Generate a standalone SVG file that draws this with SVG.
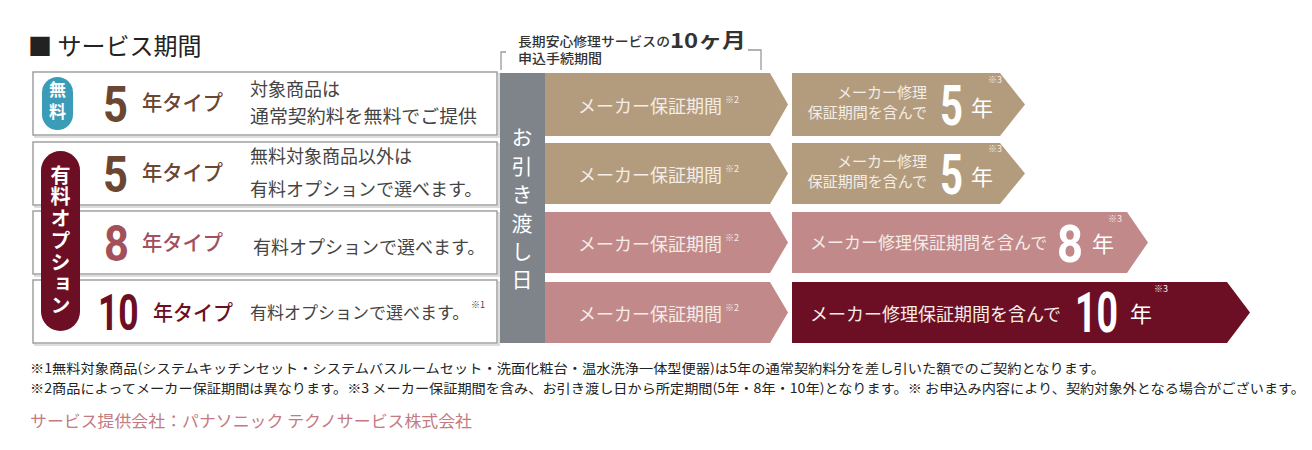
<svg xmlns="http://www.w3.org/2000/svg" width="1312" height="450" viewBox="0 0 1312 450">
<style>
.jp{font-family:"Noto Sans CJK JP","Noto Sans",sans-serif}
.num{font-family:Roboto,"Liberation Sans",sans-serif;font-weight:700}
.box{fill:#fff;stroke:#9a9a9a;stroke-width:1.4}
.shadow{fill:none;stroke:#cfcfcf;stroke-width:1.4}
.desc{font-size:18px;fill:#444}
.type{font-size:21px;font-weight:500}
.tan{fill:#b39c7e}
.rose{fill:#c2898b}
.maroon{fill:#6c0f24}
.lbl{font-size:18px;fill:#f4ede7}
.sup{font-size:9px}
.wt{fill:#fff}
.brk{fill:none;stroke:#9a9a9a;stroke-width:1.3}
.foot{font-size:13px;fill:#222}
</style>
<rect width="1312" height="450" fill="#fff"/>

<g id="title">
<text class="jp" x="28" y="55" font-size="24" fill="#222">■ サービス期間</text>
</g>

<g id="connectors">
<path class="brk" d="M506,52 H501 V70"/>
<path class="brk" d="M748,50 H761 V70"/>
</g>

<g id="bracket-label">
<text class="jp" x="518" y="46" font-size="13" font-weight="500" fill="#333" textLength="152" lengthAdjust="spacingAndGlyphs">長期安心修理サービスの</text>
<text class="jp" x="670" y="48" font-size="20" font-weight="700" fill="#333" textLength="76" lengthAdjust="spacingAndGlyphs">10ヶ月</text>
<text class="jp" x="518" y="63" font-size="13" font-weight="500" fill="#333" textLength="84" lengthAdjust="spacingAndGlyphs">申込手続期間</text>
</g>

<g id="row1">
<rect class="shadow" x="35" y="74" width="464" height="63"/>
<rect class="box" x="33" y="72" width="464" height="63"/>
<rect x="42" y="77" width="31" height="53" rx="15.5" fill="#3a9cb7"/>
<text class="jp wt" x="57.5" y="81" font-size="17" font-weight="700" writing-mode="vertical-rl" letter-spacing="5">無料</text>
<text class="num" x="103" y="122" font-size="50" fill="#6b4630" textLength="25" lengthAdjust="spacingAndGlyphs">5</text>
<text class="jp type" x="142" y="110" fill="#6b4630" textLength="81" lengthAdjust="spacingAndGlyphs">年タイプ</text>
<text class="jp desc" x="250" y="96">対象商品は</text>
<text class="jp desc" x="250" y="123" textLength="227" lengthAdjust="spacingAndGlyphs">通常契約料を無料でご提供</text>
</g>

<g id="row2">
<rect class="shadow" x="35" y="144" width="464" height="63"/>
<rect class="box" x="33" y="142" width="464" height="63"/>
<text class="num" x="103" y="192" font-size="50" fill="#6b4630" textLength="25" lengthAdjust="spacingAndGlyphs">5</text>
<text class="jp type" x="142" y="180" fill="#6b4630" textLength="81" lengthAdjust="spacingAndGlyphs">年タイプ</text>
<text class="jp desc" x="250" y="163">無料対象商品以外は</text>
<text class="jp desc" x="250" y="196">有料オプションで選べます。</text>
</g>

<g id="row3">
<rect class="shadow" x="35" y="213" width="464" height="63"/>
<rect class="box" x="33" y="211" width="464" height="63"/>
<text class="num" x="104" y="261" font-size="50" fill="#a3505a" textLength="25" lengthAdjust="spacingAndGlyphs">8</text>
<text class="jp type" x="142" y="250" fill="#a3505a" textLength="81" lengthAdjust="spacingAndGlyphs">年タイプ</text>
<text class="jp desc" x="253" y="254">有料オプションで選べます。</text>
</g>

<g id="row4">
<rect class="shadow" x="35" y="282" width="464" height="63"/>
<rect class="box" x="33" y="280" width="464" height="63"/>
<text class="num" transform="translate(98,330) scale(0.71,1)" font-size="50" fill="#6c0f24">10</text>
<text class="jp type" x="153" y="320" fill="#6c0f24" textLength="80" lengthAdjust="spacingAndGlyphs">年タイプ</text>
<text class="jp" x="250" y="319" font-size="17" fill="#444">有料オプションで選べます。</text>
<text class="jp sup" x="471" y="308" fill="#444">※1</text>
</g>

<g id="option-badge">
<rect x="41" y="151" width="39" height="180" rx="19.5" fill="#6c0f24"/>
<text class="jp wt" x="60.5" y="165" font-size="20" font-weight="700" writing-mode="vertical-rl" letter-spacing="1.8">有料オプション</text>
</g>

<g id="handover">
<rect x="500" y="73" width="45" height="270" fill="#7e848a"/>
<text class="jp wt" x="522" y="127" font-size="21" writing-mode="vertical-rl" letter-spacing="7.4">お引き渡し日</text>
</g>

<g id="warranty1">
<polygon class="tan" points="545,73 770,73 788,104.5 770,136 545,136"/>
<text class="jp lbl" x="578" y="113">メーカー保証期間</text>
<text class="jp sup" x="725" y="103" fill="#f4ede7">※2</text>
</g>
<g id="warranty2">
<polygon class="tan" points="545,143 770,143 788,173.5 770,204 545,204"/>
<text class="jp lbl" x="578" y="182">メーカー保証期間</text>
<text class="jp sup" x="725" y="172" fill="#f4ede7">※2</text>
</g>
<g id="warranty3">
<polygon class="rose" points="545,212 770,212 788,242.5 770,273 545,273"/>
<text class="jp lbl" x="578" y="251">メーカー保証期間</text>
<text class="jp sup" x="725" y="241" fill="#f4ede7">※2</text>
</g>
<g id="warranty4">
<polygon class="rose" points="545,282 770,282 788,312.5 770,343 545,343"/>
<text class="jp lbl" x="578" y="321">メーカー保証期間</text>
<text class="jp sup" x="725" y="311" fill="#f4ede7">※2</text>
</g>

<g id="total1">
<polygon class="tan" points="792,73 1000,73 1025,104.5 1000,136 792,136"/>
<text class="jp" x="927" y="98" font-size="15" fill="#f4ede7" text-anchor="end">メーカー修理</text>
<text class="jp" x="927" y="118" font-size="15" fill="#f4ede7" text-anchor="end">保証期間を含んで</text>
<text class="num wt" x="940" y="125" font-size="56" textLength="23" lengthAdjust="spacingAndGlyphs">5</text>
<text class="jp wt" x="971" y="116" font-size="22">年</text>
<text class="jp sup" x="988" y="83" fill="#f4ede7">※3</text>
</g>
<g id="total2">
<polygon class="tan" points="792,143 1000,143 1025,173.5 1000,204 792,204"/>
<text class="jp" x="927" y="167" font-size="15" fill="#f4ede7" text-anchor="end">メーカー修理</text>
<text class="jp" x="927" y="187" font-size="15" fill="#f4ede7" text-anchor="end">保証期間を含んで</text>
<text class="num wt" x="940" y="194" font-size="56" textLength="23" lengthAdjust="spacingAndGlyphs">5</text>
<text class="jp wt" x="971" y="185" font-size="22">年</text>
<text class="jp sup" x="988" y="152" fill="#f4ede7">※3</text>
</g>
<g id="total3">
<polygon class="rose" points="792,212 1127,212 1148,242.5 1127,273 792,273"/>
<text class="jp" x="810" y="249" font-size="17" fill="#f4ede7">メーカー修理保証期間を含んで</text>
<text class="num wt" x="1057" y="262" font-size="52" textLength="26" lengthAdjust="spacingAndGlyphs">8</text>
<text class="jp wt" x="1092" y="252" font-size="22">年</text>
<text class="jp sup" x="1108" y="222" fill="#f4ede7">※3</text>
</g>
<g id="total4">
<polygon class="maroon" points="792,282 1227,282 1250,312.5 1227,343 792,343"/>
<text class="jp" x="810" y="321" font-size="18" fill="#f4ede7">メーカー修理保証期間を含んで</text>
<text class="num wt" transform="translate(1075,332) scale(0.67,1)" font-size="56">10</text>
<text class="jp wt" x="1130" y="322" font-size="22">年</text>
<text class="jp sup" x="1154" y="292" fill="#f4ede7">※3</text>
</g>

<g id="footnotes">
<text class="jp foot" x="30" y="373" textLength="1075" lengthAdjust="spacingAndGlyphs">※1無料対象商品(システムキッチンセット・システムバスルームセット・洗面化粧台・温水洗浄一体型便器)は5年の通常契約料分を差し引いた額でのご契約となります。</text>
<text class="jp foot" x="30" y="393" textLength="1275" lengthAdjust="spacingAndGlyphs">※2商品によってメーカー保証期間は異なります。※3 メーカー保証期間を含み、お引き渡し日から所定期間(5年・8年・10年)となります。※ お申込み内容により、契約対象外となる場合がございます。</text>
<text class="jp" x="30" y="427" font-size="16" fill="#c47a80" textLength="442" lengthAdjust="spacingAndGlyphs">サービス提供会社：パナソニック テクノサービス株式会社</text>
</g>
</svg>
